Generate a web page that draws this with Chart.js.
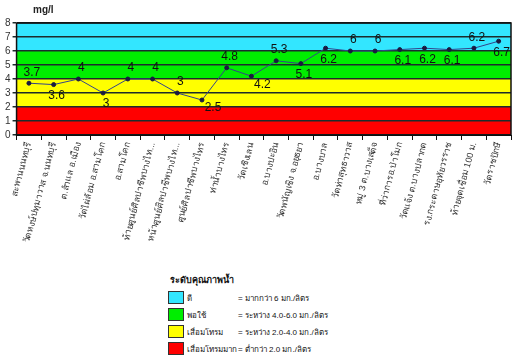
<!DOCTYPE html>
<html><head><meta charset="utf-8">
<script src="https://cdn.jsdelivr.net/npm/chart.js@4/dist/chart.umd.min.js"></script>
<style>
html,body{margin:0;padding:0;background:#fff;width:518px;height:364px;overflow:hidden;font-family:"Liberation Sans",Arial,sans-serif;}
#wrap{position:absolute;left:0;top:0;width:518px;height:252px;}
#unit{position:absolute;left:33px;top:4px;font-size:10px;font-weight:bold;color:#222;}
#legend{position:absolute;left:168px;top:273px;font-size:8px;color:#111;}
#legend .t{font-weight:bold;font-size:9px;margin-left:2px;margin-bottom:3px;white-space:nowrap;}
#legend .r{position:relative;height:17px;width:250px;}
#legend .b{position:absolute;left:0;top:1px;width:14px;height:11px;border:1px solid #333;}
#legend .n{position:absolute;left:19px;top:2px;white-space:nowrap;}
#legend .d{position:absolute;left:70px;top:2px;white-space:nowrap;}
</style></head>
<body>
<div id="wrap"><canvas id="c" width="518" height="252"></canvas></div>
<div id="unit">mg/l</div>
<div id="legend"></div>
<script>
const categories = [
  "สะพานนนทบุรี",
  "วัดหงษ์ปทุมาวาส จ.นนทบุรี",
  "ต.สำแล อ.เมือง",
  "วัดไผ่ล้อม อ.สามโคก",
  "อ.สามโคก",
  "ท้ายศูนย์ศิลปาชีพบางไท...",
  "หน้าศูนย์ศิลปาชีพบางไท...",
  "ศูนย์ศิลปาชีพบางไทร",
  "ท่าน้ำบางไทร",
  "วัดเชิงเลน",
  "อ.บางปะอิน",
  "วัดพนัญเชิง จ.อยุธยา",
  "อ.บางบาล",
  "วัดท่าสุทธาวาส",
  "หมู่ 3 ต.บางเสด็จ",
  "ที่ว่าการอ.ป่าโมก",
  "วัดแจ้ง ต.บางปลากด",
  "รง.กระดาษอุทัยวรราช",
  "ท้ายจุดเชื่อม 100 ม.",
  "วัดราชปักษี"
];
const doValues = [3.7, 3.6, 4, 3, 4, 4, 3, 2.5, 4.8, 4.2, 5.3, 5.1, 6.2, 6, 6, 6.1, 6.2, 6.1, 6.2, 6.7];
const labelSide = ["a","b","a","b","a","a","a","br","a","br","a","b","b","a","a","b","b","b","a","b"];
const yTicks = [0,1,2,3,4,5,6,7,8];
const bandEdges = [0, 2, 4, 6, 8];
const bandColors = ["#ff0000", "#ffff00", "#00ee00", "#33e6ff"];
const legendNames = ["ดี", "พอใช้", "เสื่อมโทรม", "เสื่อมโทรมมาก"];
const legendDesc = ["= มากกว่า 6 มก./ลิตร", "= ระหว่าง 4.0-6.0 มก./ลิตร", "= ระหว่าง 2.0-4.0 มก./ลิตร", "= ต่ำกว่า 2.0 มก./ลิตร"];
const legendTitle = "ระดับคุณภาพน้ำ";

const lg = document.getElementById('legend');
let html = '<div class="t">' + legendTitle + '</div>';
const lgColors = [bandColors[3], bandColors[2], bandColors[1], bandColors[0]];
legendNames.forEach((n, i) => {
  html += '<div class="r"><div class="b" style="background:' + lgColors[i] + '"></div><div class="n">' + n + '</div><div class="d">' + legendDesc[i] + '</div></div>';
});
lg.innerHTML = html;

const bandsPlugin = {
  id: 'bands',
  beforeDraw(chart) {
    const {ctx, chartArea: a, scales: {y}} = chart;
    ctx.save();
    for (let i = 0; i < bandColors.length; i++) {
      const y0 = y.getPixelForValue(bandEdges[i]);
      const y1 = y.getPixelForValue(bandEdges[i + 1]);
      ctx.fillStyle = bandColors[i];
      ctx.fillRect(a.left, y1, a.right - a.left, y0 - y1);
    }
    ctx.restore();
  },
  afterDraw(chart) {
    const {ctx, chartArea: a} = chart;
    ctx.save();
    ctx.strokeStyle = '#111';
    ctx.lineWidth = 1.5;
    ctx.strokeRect(a.left, a.top, a.right - a.left, a.bottom - a.top);
    ctx.restore();
  }
};

const valueLabels = {
  id: 'valueLabels',
  afterDatasetsDraw(chart) {
    const {ctx} = chart;
    const meta = chart.getDatasetMeta(0);
    ctx.save();
    ctx.font = '12px "Liberation Sans", Arial, sans-serif';
    ctx.fillStyle = '#111';
    ctx.textAlign = 'center';
    ctx.textBaseline = 'middle';
    meta.data.forEach((p, i) => {
      const s = labelSide[i];
      let x = p.x, yy = p.y;
      if (s === 'a') { yy -= 11; x += 3; }
      else if (s === 'b') { yy += 11; x += 3; }
      else { yy += 8; x += 11; }
      ctx.fillText(String(doValues[i]), x, yy);
    });
    ctx.restore();
  }
};

new Chart(document.getElementById('c'), {
  type: 'line',
  data: {
    labels: categories,
    datasets: [{
      data: doValues,
      borderColor: '#34448a',
      borderWidth: 1,
      pointRadius: 2,
      pointBackgroundColor: '#1a1a40',
      pointBorderColor: '#1a1a40',
      tension: 0
    }]
  },
  options: {
    responsive: false,
    animation: false,
    layout: {padding: {top: 23, right: 7, left: 3, bottom: 0}},
    plugins: {legend: {display: false}, tooltip: {enabled: false}},
    scales: {
      x: {
        offset: true,
        afterFit(s) { s.height = 117; },
        grid: {offset: true, drawOnChartArea: false, drawTicks: true, tickLength: 5, color: '#111'},
        border: {color: '#111'},
        ticks: {
          autoSkip: false, minRotation: 75, maxRotation: 75, padding: 1,
          color: '#333',
          font: {size: 9, family: '"Liberation Sans", Arial, sans-serif'}
        }
      },
      y: {
        min: 0, max: 8,
        afterBuildTicks(s) { s.ticks = yTicks.map(v => ({value: v})); },
        grid: {color: '#1c2c2c', lineWidth: 1.5, tickLength: 4},
        border: {color: '#111'},
        ticks: {autoSkip: false, stepSize: 1, padding: 2, color: '#333', font: {size: 10, family: '"Liberation Sans", Arial, sans-serif'}}
      }
    }
  },
  plugins: [bandsPlugin, valueLabels]
});
</script>
</body></html>
